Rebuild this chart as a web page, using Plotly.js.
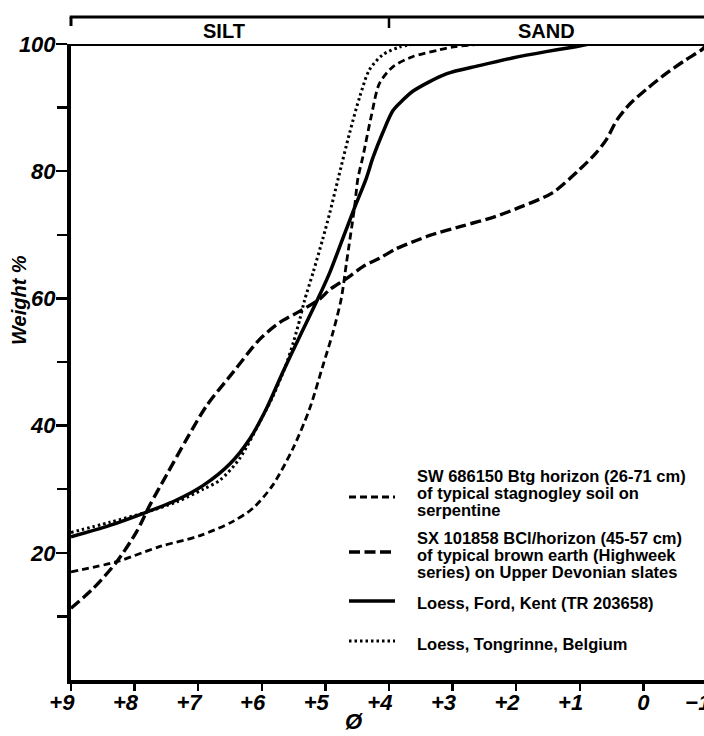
<!DOCTYPE html>
<html><head><meta charset="utf-8">
<script src="https://cdn.plot.ly/plotly-3.0.1.min.js"></script>
<style>html,body{margin:0;padding:0;overflow:hidden;background:#fff}#chart{width:712px;height:736px}</style>
</head><body><div id="chart"></div>
<script>
// ---- data (phi value vs cumulative weight %) ----
const phiSW = [9.0, 8.28, 7.6, 6.97, 6.46, 6.14, 5.83, 5.51, 5.25, 5.04, 4.88, 4.75, 4.67, 4.54, 4.49, 4.41, 4.28, 4.15, 3.94, 3.63, 3.2, 2.95, 2.5];
const wSW   = [17.0, 18.6, 21.0, 22.7, 24.9, 27.0, 30.6, 36.4, 42.6, 49.4, 54.7, 60.0, 65.5, 74.5, 78.8, 82.3, 88.6, 93.8, 96.4, 98.0, 99.1, 99.6, 100];

const phiSX = [9.0, 8.65, 8.28, 7.97, 7.76, 7.5, 7.18, 6.87, 6.45, 6.03, 5.72, 5.40, 5.09, 4.93, 4.67, 4.41, 4.15, 3.89, 3.57, 3.36, 2.84, 2.32, 1.95, 1.43, 1.01, 0.75, 0.58, 0.42, 0.21, -0.05, -0.35, -0.65, -0.93, -1.0];
const wSX   = [11.3, 14.4, 18.6, 23.3, 27.5, 32.2, 37.9, 43.1, 48.4, 53.6, 56.2, 58.0, 59.9, 61.4, 63.1, 65.0, 66.3, 67.8, 69.1, 69.9, 71.4, 72.9, 74.3, 76.6, 80.2, 82.8, 85.0, 88.0, 90.6, 92.9, 95.3, 97.4, 99.2, 100];

const phiFord = [9.0, 8.39, 7.81, 7.34, 6.92, 6.5, 6.19, 5.93, 5.67, 5.40, 5.12, 4.93, 4.72, 4.54, 4.36, 4.25, 4.10, 3.94, 3.80, 3.62, 3.10, 2.58, 2.06, 1.53, 1.11, 0.85];
const wFord   = [22.5, 24.3, 26.4, 28.3, 30.6, 34.0, 37.9, 42.6, 48.4, 54.1, 59.9, 64.1, 69.6, 74.3, 78.8, 82.2, 86.0, 89.5, 91.0, 92.6, 95.3, 96.6, 97.8, 98.8, 99.5, 100];

const phiTong = [9.0, 8.39, 7.81, 7.34, 6.92, 6.66, 6.35, 6.03, 5.83, 5.70, 5.61, 5.50, 5.40, 5.33, 5.19, 5.04, 4.93, 4.80, 4.62, 4.46, 4.31, 4.10, 3.84, 3.6];
const wTong   = [23.2, 24.8, 26.4, 28.0, 30.0, 31.4, 34.8, 40.6, 44.5, 47.5, 49.8, 53.2, 56.8, 59.6, 64.2, 69.4, 73.5, 78.8, 86.0, 91.7, 95.9, 98.3, 99.5, 100];

const seriesNames = [
  'SW 686150 Btg horizon (26-71 cm) of typical stagnogley soil on serpentine',
  'SX 101858 BCl/horizon (45-57 cm) of typical brown earth (Highweek series) on Upper Devonian slates',
  'Loess, Ford, Kent (TR 203658)',
  'Loess, Tongrinne, Belgium'
];
const legendLines = [
  ['SW 686150 Btg horizon (26-71 cm)', 'of typical stagnogley soil on', 'serpentine'],
  ['SX 101858 BCl/horizon (45-57 cm)', 'of typical brown earth (Highweek', 'series) on Upper Devonian slates'],
  ['Loess, Ford, Kent (TR 203658)'],
  ['Loess, Tongrinne, Belgium']
];
const xTickVals = [9, 8, 7, 6, 5, 4, 3, 2, 1, 0, -1];
const xTickText = ['+9', '+8', '+7', '+6', '+5', '+4', '+3', '+2', '+1', '0', '\u22121'];
const yTickVals = [20, 40, 60, 80, 100];
const yTickText = ['20', '40', '60', '80', '100'];
const yMinorVals = [10, 30, 50, 70, 90];
const classNames = ['SILT', 'SAND'];
const classCenters = [6.6, 1.53];
const classBoundary = 4;

// ---- layout geometry ----
const W = 712, H = 736, L = 71, R = 5, T = 44, B = 56;
const pw = W - L - R, ph = H - T - B;
const px = x => (x - L) / pw;
const py = y => (H - B - y) / ph;
const phiToPaper = p => (9 - p) / 10;

const FONT = 'Liberation Sans, Arial, Helvetica, sans-serif';
const pad = s => (s.startsWith('+') || s.startsWith('\u2212')) ? s + '\u00A0\u00A0\u00A0' : s;

const styles = [
  {width: 2.8, dash: '7px,4px'},
  {width: 3.4, dash: '11px,4.5px'},
  {width: 3.5, dash: 'solid'},
  {width: 3, dash: '2.5px,3px'}
];
const xs = [phiSW, phiSX, phiFord, phiTong];
const ys = [wSW, wSX, wFord, wTong];

const traces = xs.map((x, i) => ({
  type: 'scatter', mode: 'lines', x: x, y: ys[i], name: seriesNames[i],
  line: {color: '#000', width: styles[i].width, dash: styles[i].dash, shape: 'spline', smoothing: 0.8},
  showlegend: false, hoverinfo: 'skip', cliponaxis: true
}));

const shapes = [
  // top 100% line
  {type: 'line', xref: 'paper', yref: 'y', x0: 0, x1: 1, y0: 100, y1: 100, line: {color: '#000', width: 4}},
  // silt/sand bracket
  {type: 'line', xref: 'paper', yref: 'paper', x0: -0.002, x1: 1, y0: py(17), y1: py(17), line: {color: '#000', width: 3}},
  {type: 'line', xref: 'paper', yref: 'paper', x0: 0, x1: 0, y0: py(17), y1: py(26), line: {color: '#000', width: 3}},
  {type: 'line', xref: 'paper', yref: 'paper', x0: phiToPaper(classBoundary), x1: phiToPaper(classBoundary), y0: py(17), y1: py(28), line: {color: '#000', width: 2.5}}
];

const annotations = [];
classNames.forEach((n, i) => annotations.push({
  text: n, xref: 'paper', yref: 'paper', x: phiToPaper(classCenters[i]), y: py(31),
  xanchor: 'center', yanchor: 'middle', showarrow: false,
  font: {family: FONT, size: 20, color: '#000', weight: 'bold'}
}));
annotations.push({
  text: 'Weight %', xref: 'paper', yref: 'paper', x: px(19), y: py(300), textangle: -90,
  xanchor: 'center', yanchor: 'middle', showarrow: false,
  font: {family: FONT, size: 20, color: '#000', weight: 'bold', style: 'italic'}
});
annotations.push({
  text: '\u00D8', xref: 'paper', yref: 'paper', x: px(354), y: py(721),
  xanchor: 'center', yanchor: 'middle', showarrow: false,
  font: {family: FONT, size: 22, color: '#000', weight: 'bold', style: 'italic'}
});

// legend (text lines + line samples)
const legendTextY = [[476, 493, 510], [537.5, 555, 572], [602.5], [644]];
const legendSymY = [497, 552, 601, 641];
legendLines.forEach((lines, i) => {
  lines.forEach((t, j) => annotations.push({
    text: t, xref: 'paper', yref: 'paper', x: px(415), y: py(legendTextY[i][j]),
    xanchor: 'left', yanchor: 'middle', showarrow: false,
    font: {family: FONT, size: 16.5, color: '#000', weight: 'bold'}
  }));
  shapes.push({type: 'line', xref: 'paper', yref: 'paper', x0: px(349), x1: px(395),
    y0: py(legendSymY[i]), y1: py(legendSymY[i]),
    line: {color: '#000', width: styles[i].width, dash: styles[i].dash}});
});

const tickFont = {family: FONT, size: 22, color: '#000', weight: 'bold', style: 'italic'};

const layout = {
  width: W, height: H,
  margin: {l: L, r: R, t: T, b: B, pad: 0},
  paper_bgcolor: '#fff', plot_bgcolor: '#fff',
  showlegend: false,
  xaxis: {
    range: [9, -1], tickmode: 'array', tickvals: xTickVals, ticktext: xTickText.map(pad),
    ticks: 'outside', ticklen: 7, tickwidth: 2.5, tickcolor: '#000',
    ticklabelstandoff: -7, ticklabeloverflow: 'allow',
    showline: true, linewidth: 4, linecolor: '#000', mirror: false,
    showgrid: false, zeroline: false, tickfont: tickFont, automargin: false, fixedrange: true
  },
  yaxis: {
    range: [0, 100], tickmode: 'array', tickvals: yTickVals, ticktext: yTickText,
    ticks: 'outside', ticklen: 11, tickwidth: 2.5, tickcolor: '#000',
    ticklabelstandoff: -4, ticklabeloverflow: 'allow',
    minor: {tickmode: 'array', tickvals: yMinorVals, ticks: 'outside', ticklen: 10, tickwidth: 2.5, tickcolor: '#000', showgrid: false},
    showline: true, linewidth: 4, linecolor: '#000',
    showgrid: false, zeroline: false, tickfont: tickFont, automargin: false, fixedrange: true
  },
  shapes: shapes,
  annotations: annotations
};

Plotly.newPlot('chart', traces, layout, {staticPlot: true, displayModeBar: false});
</script>
</body></html>
